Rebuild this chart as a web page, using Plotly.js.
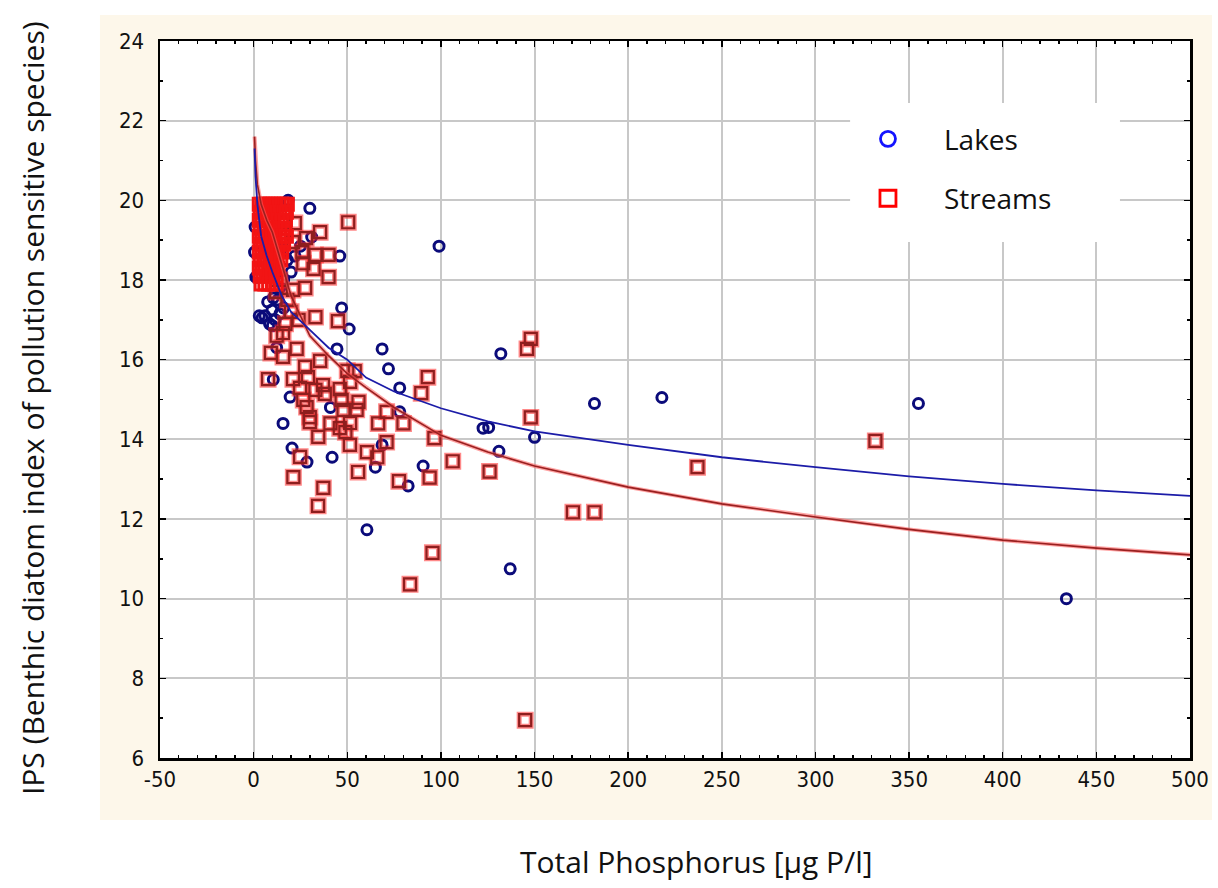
<!DOCTYPE html>
<html>
<head>
<meta charset="utf-8">
<script src="https://cdn.plot.ly/plotly-3.0.1.min.js"></script>
<style>html,body{margin:0;padding:0;background:#fff;}#chart{width:1218px;height:888px;}</style>
</head>
<body>
<div id="chart"></div>
<script>
// ---- Data ----
// Lakes (open circles)
const lakesX = [99,132,218,182,355,150,122.5,125.5,131,137,434,60.5,82.5,90.5,65,68.6,41.9,28.5,20.5,15.7,
  68.6,72,78,78,51,47,46,30,31,44.5,41,12.3,10.5,19.5,18.4,2.5,10.5,
  6,9.8,13,8.5,4.5,11.5,14,7.5,3,10,16,
  0.8,0.5,1.2,15,18,22,12,20,25,16,14,9];
const lakesY = [18.85,16.15,15.05,14.9,14.9,14.05,14.28,14.3,13.7,10.75,10.0,11.73,12.83,13.33,13.3,13.86,13.55,13.43,13.78,14.4,
  16.27,15.77,15.29,14.69,16.77,17.3,18.6,19.8,19.08,16.27,14.8,16.3,15.5,15.06,20.0,18.07,17.55,
  17.1,17.25,17.5,16.9,17.05,17.0,17.15,17.45,17.1,16.85,17.3,
  19.33,18.7,18.07,18.8,18.5,18.6,18.9,18.2,18.85,18.0,17.8,18.1];

// Streams (open squares), scattered sites
const streamsX = [50.5,148,146,148,93,89.5,96.5,106.3,126,94,77.6,95.5,83.5,145,170.5,182,237,332,
  55.8,51.4,60.5,66,71,66.5,80,71,48,56,51.5,49,46,50,54,51.5,46,47,55,
  34.5,24.8,21.2,37.2,34.4,41,30,33,45,12.3,23,9.2,15.7,35.5,27.5,7.7,21,29,37,24.8,33,38,26.5,28.3,30,15.7,
  22,35.5,33,40,32,40,27.5,21,26,26.5,15,21,28,18,20,24,17,12,14];
const streamsY = [19.45,16.52,16.27,14.55,15.56,15.16,14.03,13.45,13.19,13.04,12.95,11.15,10.36,6.95,12.17,12.17,13.3,13.96,
  13.18,13.86,13.68,13.55,13.93,14.4,14.4,14.69,14.74,14.94,14.41,14.18,14.28,15.72,15.71,15.44,15.26,14.99,14.74,
  14.06,13.56,13.05,12.78,12.33,14.4,14.43,17.07,16.97,16.6,16.27,16.17,16.07,15.97,15.82,15.51,15.51,15.56,15.36,15.29,15.24,15.14,14.99,14.81,14.56,16.67,
  19.43,19.2,18.63,18.63,18.28,18.07,17.8,17.75,18.7,18.42,19.45,18.95,19.05,17.5,17.2,17.0,16.9,17.7,18.0];

// Streams (open squares), the dense group of low-phosphorus sites
const streamsDenseX = [3,4.5,6,7.5,9,10.5,12,13.5,15,16.5,18,
  3.5,5,7,8.5,10,12.5,14,16,17.5,
  3,4.5,6.5,8,9.5,11,13,15,17,
  3.5,5.5,7,9,10.5,12,14,16.5,
  3,4.5,6,8,10,11.5,13.5,15.5,17.5,
  3.5,5,7,8.5,10,12,14,16,
  3,4.5,6.5,8,9.5,11.5,13,15,
  3.5,5.5,7,9,10.5,12.5,14.5,
  3,4.5,6,8,9.5,11,13,
  3.5,5,7,8.5,10,12,
  4,6,8,10,12];
const streamsDenseY = [19.9,19.9,19.9,19.9,19.9,19.9,19.9,19.9,19.9,19.9,19.9,
  19.7,19.7,19.7,19.7,19.7,19.7,19.7,19.7,19.7,
  19.5,19.5,19.5,19.5,19.5,19.5,19.5,19.5,19.5,
  19.3,19.3,19.3,19.3,19.3,19.3,19.3,19.3,
  19.1,19.1,19.1,19.1,19.1,19.1,19.1,19.1,19.1,
  18.9,18.9,18.9,18.9,18.9,18.9,18.9,18.9,
  18.7,18.7,18.7,18.7,18.7,18.7,18.7,18.7,
  18.5,18.5,18.5,18.5,18.5,18.5,18.5,
  18.3,18.3,18.3,18.3,18.3,18.3,18.3,
  18.1,18.1,18.1,18.1,18.1,18.1,
  17.9,17.9,17.9,17.9,17.9];

// Fitted curves
const fitX = [0.5,1,2,4,7,10,15,20,30,40,50,60,75,100,125,150,200,250,300,350,400,450,500];
const lakesFitY = [21.3,20.6,19.9,19.1,18.6,18.2,17.6,17.2,16.75,16.3,16.0,15.55,15.2,14.78,14.45,14.2,13.86,13.55,13.3,13.07,12.88,12.72,12.58];
const streamsFitY = [21.6,21.0,20.4,19.9,19.5,19.2,18.4,17.6,16.6,16.1,15.65,15.3,14.8,14.1,13.68,13.33,12.8,12.38,12.05,11.74,11.47,11.27,11.1];

const xTickVals = [-50,0,50,100,150,200,250,300,350,400,450,500];
const xTickText = ['-50','0','50','100','150','200','250','300','350','400','450','500'];
const yTickVals = [6,8,10,12,14,16,18,20,22,24];

const tickFont = {family:'"DejaVu Sans Condensed","Liberation Sans Narrow","Arial Narrow",sans-serif', size:22, color:'#111'};
const titleFont = {family:'"Open Sans","Noto Sans",sans-serif', size:30, color:'#111'};

const traces = [
  {x:lakesX, y:lakesY, type:'scatter', mode:'markers', showlegend:false, hoverinfo:'skip',
   marker:{symbol:'circle-open', size:10, color:'#0b0b7a', line:{width:3, color:'#0b0b7a'}}},
  {x:streamsX, y:streamsY, type:'scatter', mode:'markers', showlegend:false, hoverinfo:'skip',
   marker:{symbol:'square-open', size:12, color:'rgba(255,40,40,0.55)', line:{width:5, color:'rgba(255,40,40,0.55)'}}},
  {x:streamsX, y:streamsY, type:'scatter', mode:'markers', showlegend:false, hoverinfo:'skip',
   marker:{symbol:'square-open', size:12, color:'#8e1e1e', line:{width:2.2, color:'#8e1e1e'}}},
  {x:streamsDenseX, y:streamsDenseY, type:'scatter', mode:'markers', showlegend:false, hoverinfo:'skip',
   marker:{symbol:'square-open', size:12, color:'#f21414', line:{width:3, color:'#f21414'}}},
  {x:fitX, y:streamsFitY, type:'scatter', mode:'lines', showlegend:false, hoverinfo:'skip',
   line:{color:'rgba(255,90,90,0.55)', width:4}},
  {x:fitX, y:streamsFitY, type:'scatter', mode:'lines', showlegend:false, hoverinfo:'skip',
   line:{color:'#9a2020', width:1.6}},
  {x:fitX, y:lakesFitY, type:'scatter', mode:'lines', showlegend:false, hoverinfo:'skip',
   line:{color:'#1c1ca8', width:1.8}},
  {x:[null], y:[null], type:'scatter', mode:'markers', name:'Lakes', legendgroup:'a',
   marker:{symbol:'circle-open', size:15, color:'#1414ff', line:{width:2.8, color:'#1414ff'}}},
  {x:[null], y:[null], type:'scatter', mode:'markers', name:'Streams', legendgroup:'b',
   marker:{symbol:'square-open', size:16, color:'#ff0000', line:{width:2.8, color:'#ff0000'}}}
];

const axisCommon = {
  showgrid:true, gridcolor:'#c8c8c8', gridwidth:2, zeroline:false,
  showline:true, linecolor:'#000', linewidth:2.5, mirror:'ticks',
  ticks:'inside', ticklen:6, tickwidth:1.5, tickcolor:'#000',
  tickfont:tickFont, automargin:false
};

const layout = {
  width:1218, height:888,
  margin:{l:160, r:28, t:41, b:130},
  paper_bgcolor:'#ffffff', plot_bgcolor:'#ffffff',
  xaxis:Object.assign({}, axisCommon, {
    range:[-50,500], tickvals:xTickVals, ticktext:xTickText,
    minor:{dtick:10, tick0:0, ticks:'inside', ticklen:3, tickcolor:'#000', showgrid:false}
  }),
  yaxis:Object.assign({}, axisCommon, {
    range:[6,24], tickvals:yTickVals,
    minor:{dtick:1, tick0:0, ticks:'inside', ticklen:3, tickcolor:'#000', showgrid:false},
    ticklabelstandoff:9
  }),
  legend:{x:0.6524, y:0.898, xanchor:'left', yanchor:'top', bgcolor:'rgba(0,0,0,0)', borderwidth:0,
    font:{family:'"Open Sans","Noto Sans",sans-serif', size:28, color:'#111'},
    tracegroupgap:20, itemwidth:102},
  annotations:[
    {text:'Total Phosphorus [µg P/l]', xref:'paper', yref:'paper', x:0.521, y:-0.145,
     xanchor:'center', yanchor:'middle', showarrow:false, font:titleFont},
    {text:'IPS (Benthic diatom index of pollution sensitive species)', xref:'paper', yref:'paper',
     x:-0.1243, y:0.488, xanchor:'center', yanchor:'middle', textangle:-90, showarrow:false, font:titleFont}
  ],
  shapes:[
    {type:'rect', xref:'paper', yref:'paper', x0:-0.0583, x1:1.0214, y0:-0.0865, y1:1.0363,
     fillcolor:'#fdf7ea', line:{width:0}, layer:'below'},
    {type:'rect', xref:'paper', yref:'paper', x0:0, x1:1, y0:0, y1:1,
     fillcolor:'#ffffff', line:{width:0}, layer:'below'},
    {type:'rect', xref:'paper', yref:'paper', x0:0.67, x1:0.932, y0:0.7197, y1:0.9135,
     fillcolor:'#ffffff', line:{width:0}, layer:'above'}
  ]
};

Plotly.newPlot('chart', traces, layout, {displayModeBar:false, staticPlot:true});
</script>
</body>
</html>
